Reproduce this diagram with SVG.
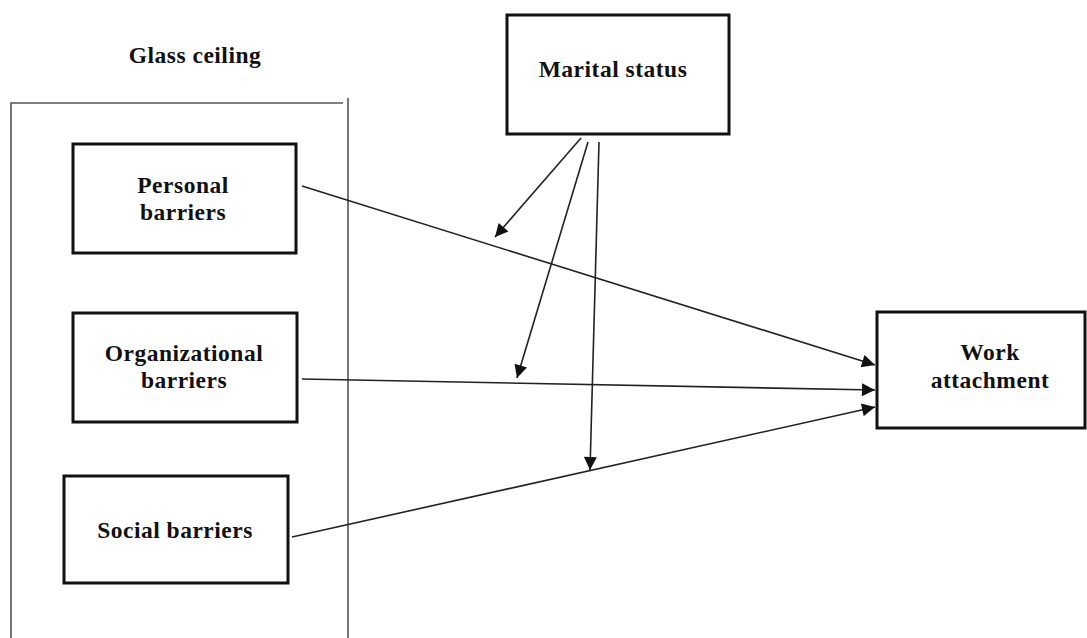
<svg xmlns="http://www.w3.org/2000/svg" width="1087" height="638" viewBox="0 0 1087 638">
<defs>
<marker id="ah" viewBox="0 0 10 10" refX="10" refY="5" markerWidth="17" markerHeight="13" markerUnits="userSpaceOnUse" orient="auto">
<path d="M0,0 L10,5 L0,10 z" fill="#111"/>
</marker>
</defs>
<style>
.box{fill:#fff;stroke:#111;stroke-width:3}
.frame{fill:none;stroke:#555;stroke-width:1.6}
.lbl{font-family:"Liberation Serif","Times New Roman",serif;font-weight:bold;font-size:23.5px;letter-spacing:0.5px;fill:#111;text-anchor:middle}
.conn{stroke:#222;stroke-width:1.6;fill:none;marker-end:url(#ah)}
</style>
<rect width="1087" height="638" fill="#fff"/>
<g id="glass-ceiling">
<text class="lbl" x="195" y="63">Glass ceiling</text>
<path class="frame" d="M11,640 L11,103 L343,103"/>
<path class="frame" d="M348,98 L348,640"/>
</g>
<g id="personal">
<rect class="box" x="73" y="144" width="223" height="109"/>
<text class="lbl" x="183" y="193">Personal</text>
<text class="lbl" x="183" y="220">barriers</text>
</g>
<g id="organizational">
<rect class="box" x="73" y="313" width="224" height="109"/>
<text class="lbl" x="184" y="361">Organizational</text>
<text class="lbl" x="184" y="388">barriers</text>
</g>
<g id="social">
<rect class="box" x="64" y="476" width="224" height="107"/>
<text class="lbl" x="175" y="538">Social barriers</text>
</g>
<g id="marital">
<rect class="box" x="507" y="15" width="222" height="119"/>
<text class="lbl" x="613" y="77">Marital status</text>
</g>
<g id="work">
<rect class="box" x="877" y="312" width="208" height="116"/>
<text class="lbl" x="990" y="360">Work</text>
<text class="lbl" x="990" y="388">attachment</text>
</g>
<g id="connectors">
<line class="conn" x1="302" y1="186" x2="875" y2="365"/>
<line class="conn" x1="302" y1="379" x2="875" y2="390"/>
<line class="conn" x1="292" y1="537" x2="875" y2="407"/>
<line class="conn" x1="581" y1="138" x2="495" y2="237"/>
<line class="conn" x1="588" y1="142" x2="517" y2="378"/>
<line class="conn" x1="599" y1="142" x2="590" y2="470"/>
</g>
</svg>
